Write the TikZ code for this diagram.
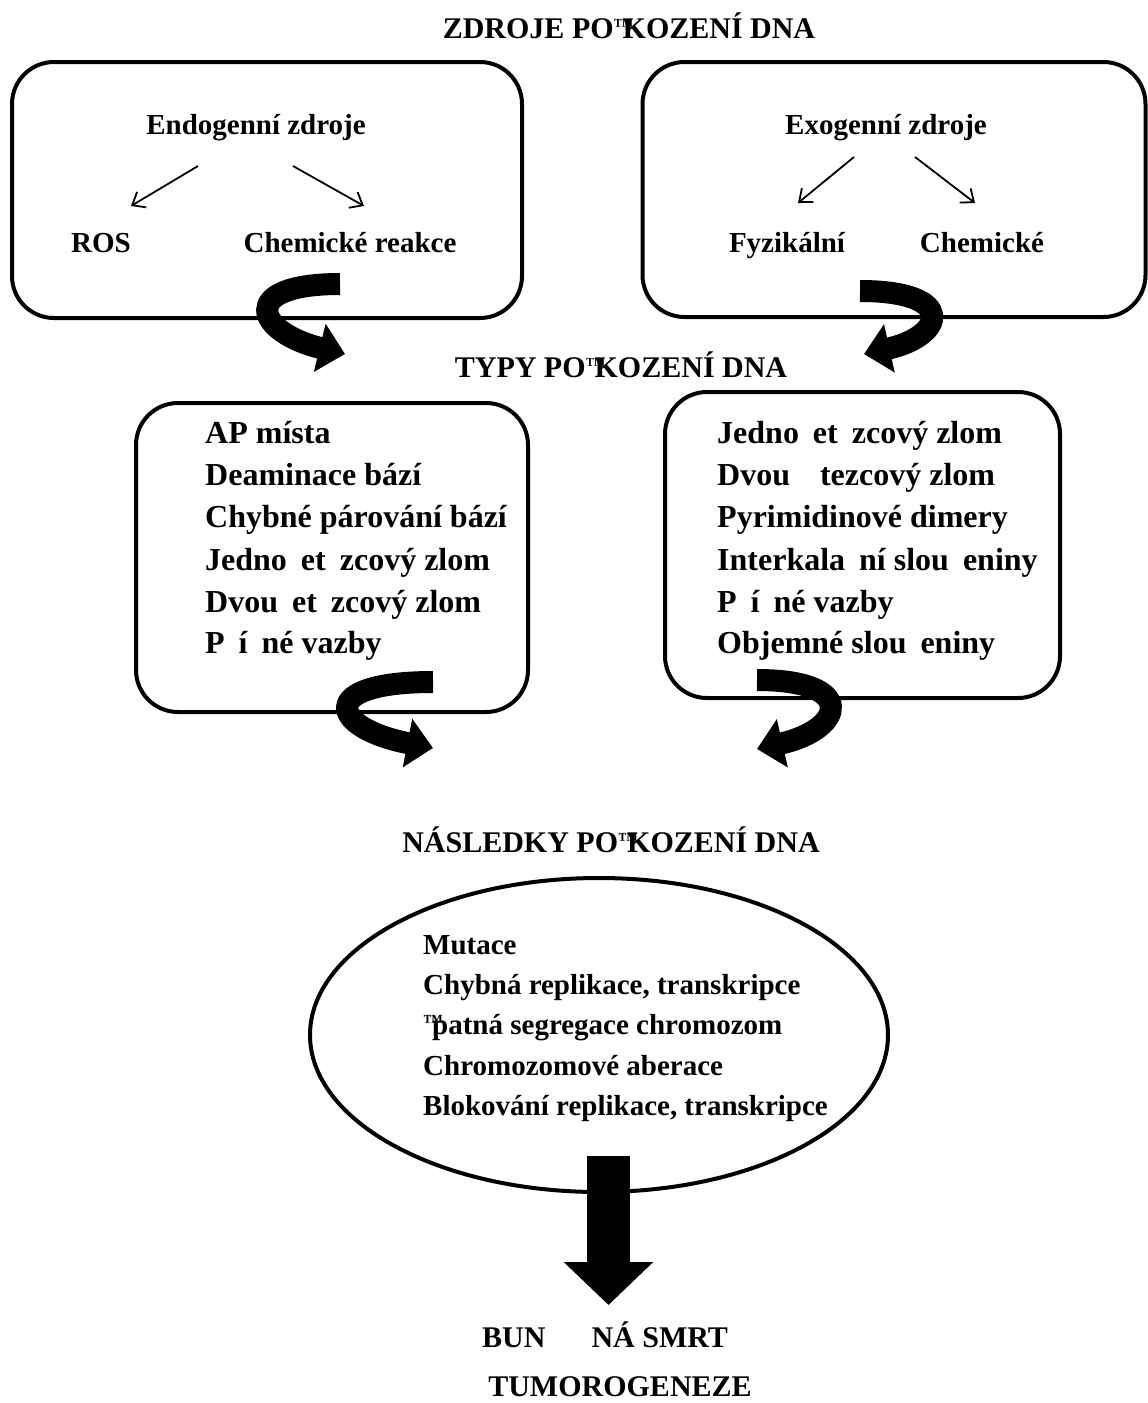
\documentclass[tikz,border=0pt]{standalone}
\usepackage{fontspec}
\setmainfont{Liberation Serif}
\usetikzlibrary{arrows.meta,shapes.geometric}
\newcommand\mygap{\hspace*{14pt}}
\newcommand\tmark{\rlap{\raisebox{6pt}{\fontsize{20}{20}\selectfont ™}}\kern9pt}
\begin{document}
\begin{tikzpicture}[x=1pt,y=-1pt,
  box/.style={draw, line width=4pt, rounded corners=42pt, inner sep=0pt},
  ttl/.style={anchor=base, font=\fontsize{30}{36}\selectfont\bfseries, inner sep=0pt},
  srct/.style={anchor=base, font=\fontsize{29}{34}\selectfont\bfseries, inner sep=0pt},
  item/.style={anchor=base west, font=\fontsize{32}{38}\selectfont\bfseries, inner sep=0pt},
  eitem/.style={anchor=base west, font=\fontsize{29}{34}\selectfont\bfseries, inner sep=0pt},
  thinarrow/.style={line width=1.8pt, -{Straight Barb[length=11pt,width=18pt]}},
  curl/.style={line width=22pt, -{Triangle[length=26pt,width=48pt]}},
]
\useasboundingbox (0,0) rectangle (1148,1403);

% titles
\node[ttl] (t1) at (629,38) {ZDROJE PO\tmark KOZENÍ DNA};
\node[ttl] (t2) at (621,377) {TYPY PO\tmark KOZENÍ DNA};
\node[ttl] (t3) at (611,852) {NÁSLEDKY PO\tmark KOZENÍ DNA};

% source boxes
\node[box, minimum width=510pt, minimum height=256pt] (endo) at (267,190) {};
\node[box, minimum width=503pt, minimum height=255pt] (exo) at (894,189.5) {};

\node[srct] (endot) at (256,134) {Endogenní zdroje};
\node[srct] (ros) at (101,252) {ROS};
\node[srct] (chr) at (350,252) {Chemické reakce};
\coordinate (e1a) at (198,166); \coordinate (e1b) at (131,206);
\coordinate (e2a) at (293,166); \coordinate (e2b) at (364,206);
\draw[thinarrow] (e1a) -- (e1b);
\draw[thinarrow] (e2a) -- (e2b);

\node[srct] (exot) at (886,134) {Exogenní zdroje};
\node[srct] (fyz) at (787,252) {Fyzikální};
\node[srct] (chem) at (982,252) {Chemické};
\coordinate (x1a) at (854,157); \coordinate (x1b) at (798,203);
\coordinate (x2a) at (915,157); \coordinate (x2b) at (975,203);
\draw[thinarrow] (x1a) -- (x1b);
\draw[thinarrow] (x2a) -- (x2b);

% type boxes
\node[box, minimum width=392pt, minimum height=309pt] (typl) at (332,557.5) {};
\node[box, minimum width=395pt, minimum height=306pt] (typr) at (862.5,545) {};

\node[item] (l1) at (205,443) {AP místa};
\node[item] (l2) at (205,485) {Deaminace bází};
\node[item] (l3) at (205,527) {Chybné párování bází};
\node[item] (l4) at (205,570) {Jedno\mygap et\mygap zcový zlom};
\node[item] (l5) at (205,612) {Dvou\mygap et\mygap zcový zlom};
\node[item] (l6) at (205,653) {P\mygap í\mygap né vazby};

\node[item] (r1) at (717,443) {Jedno\mygap et\mygap zcový zlom};
\node[item] (r2) at (717,485) {Dvou\hspace*{30pt}tezcový zlom};
\node[item] (r3) at (717,527) {Pyrimidinové dimery};
\node[item] (r4) at (717,570) {Interkala\mygap ní slou\mygap eniny};
\node[item] (r5) at (717,612) {P\mygap í\mygap né vazby};
\node[item] (r6) at (717,653) {Objemné slou\mygap eniny};

% curly arrows
\coordinate (a1s) at (340,284); \coordinate (a1e) at (345,354);
\draw[curl] (a1s) .. controls (237,284) and (255,332) .. (a1e);
\coordinate (a2s) at (860,291); \coordinate (a2e) at (864,354);
\draw[curl] (a2s) .. controls (958,291) and (945,336) .. (a2e);
\coordinate (a3s) at (433,682); \coordinate (a3e) at (433,748);
\draw[curl] (a3s) .. controls (315,682) and (330,728) .. (a3e);
\coordinate (a4s) at (757,680); \coordinate (a4e) at (757,749);
\draw[curl] (a4s) .. controls (858,680) and (845,729) .. (a4e);

% consequences
\node[draw, ellipse, line width=4pt, inner sep=0pt, minimum width=578pt, minimum height=314pt] (cons) at (599,1035) {};
\node[eitem] (c1) at (423,954) {Mutace};
\node[eitem] (c2) at (423,994) {Chybná replikace, transkripce};
\node[eitem] (c3) at (423,1034) {\tmark patná segregace chromozom};
\node[eitem] (c4) at (423,1075) {Chromozomové aberace};
\node[eitem] (c5) at (423,1115) {Blokování replikace, transkripce};

\coordinate (bigs) at (608.5,1156); \coordinate (bige) at (608.5,1305);
\draw[line width=43pt, -{Triangle[length=43pt,width=87pt]}] (bigs) -- (bige);

\node[anchor=base west, font=\fontsize{30}{36}\selectfont\bfseries, inner sep=0pt] (death) at (482,1347) {BUN\hspace*{46pt}NÁ SMRT};
\node[ttl] (tumor) at (620,1396) {TUMOROGENEZE};
\end{tikzpicture}
\end{document}
